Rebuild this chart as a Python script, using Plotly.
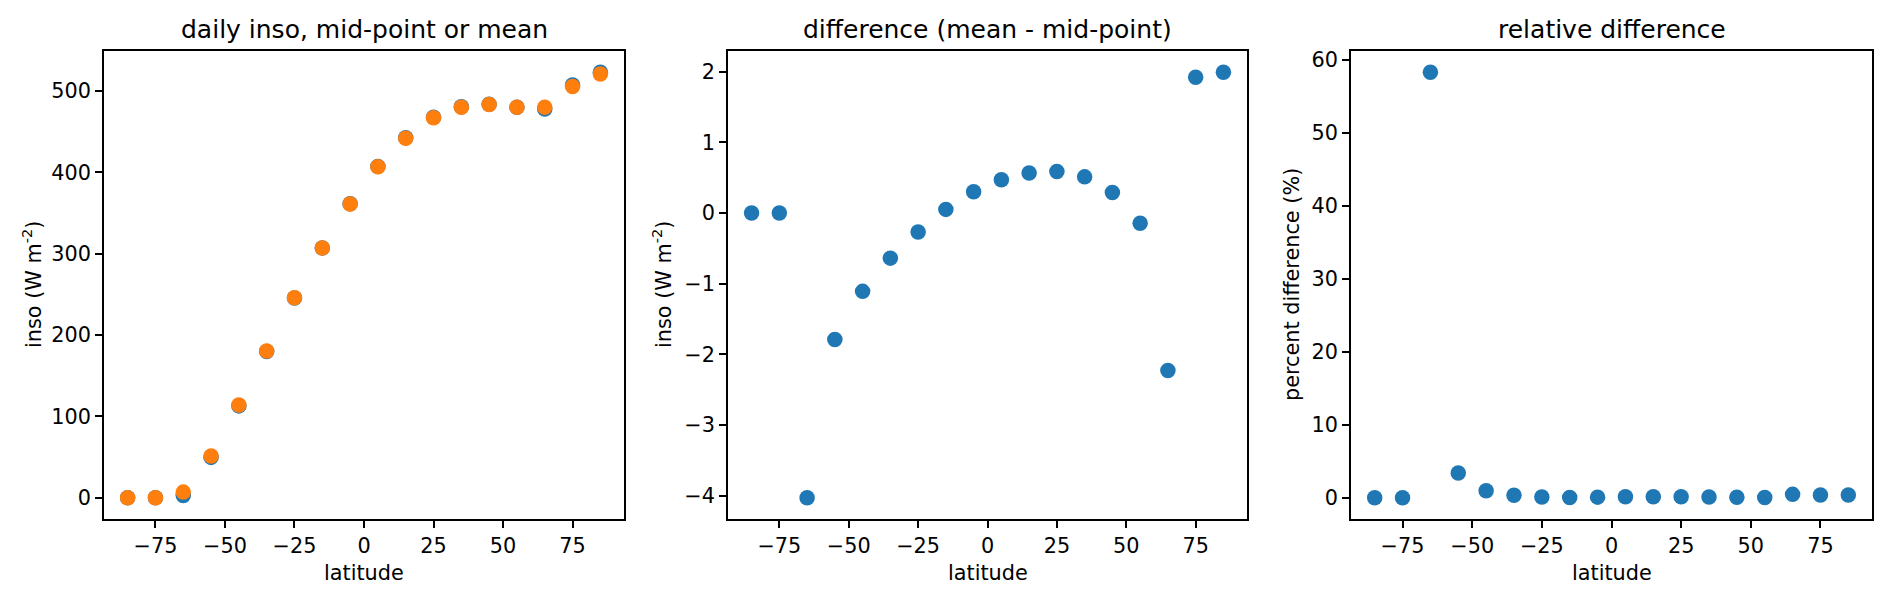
import plotly.graph_objects as go

latitude = [-85, -75, -65, -55, -45, -35, -25, -15, -5, 5, 15, 25, 35, 45, 55, 65, 75, 85]

# daily insolation (W m-2): mean (blue) and mid-point (orange)
inso_mean = [0.0, 0.0, 2.8, 49.6, 112.9, 179.7, 245.5, 307.0, 361.3, 407.3,
             442.6, 467.6, 480.5, 483.8, 479.9, 477.9, 507.5, 523.0]
inso_mid = [0.0, 0.0, 6.9, 51.4, 114.0, 180.3, 245.8, 307.0, 361.0, 406.8,
            442.0, 467.0, 480.0, 483.5, 480.0, 480.1, 505.6, 521.0]

# difference (mean - mid-point)
inso_diff = [0.0, 0.0, -4.03, -1.79, -1.11, -0.64, -0.27, 0.05, 0.30, 0.47,
             0.565, 0.587, 0.51, 0.29, -0.147, -2.23, 1.92, 1.99]

# relative difference (%)
rel_diff = [0.0, 0.0, 58.3, 3.4, 0.96, 0.35, 0.11, 0.02, 0.08, 0.12,
            0.13, 0.13, 0.11, 0.06, 0.03, 0.46, 0.38, 0.38]

x_ticks = [-75, -50, -25, 0, 25, 50, 75]
y1_ticks = [0, 100, 200, 300, 400, 500]
y2_ticks = [-4, -3, -2, -1, 0, 1, 2]
y3_ticks = [0, 10, 20, 30, 40, 50, 60]

titles = ["daily inso, mid-point or mean", "difference (mean - mid-point)", "relative difference"]
ylabels = ["inso (W m<sup>-2</sup>)", "inso (W m<sup>-2</sup>)", "percent difference (%)"]
xlabel = "latitude"

BLUE = "#1f77b4"
ORANGE = "#ff7f0e"
OFF = 8  # default page body margin
W, H = 1892 - OFF, 600 - OFF
FONT = "DejaVu Sans"
TICKF = 20.8
TITLEF = 25

# panel pixel boxes (page coordinates)
px_left = [104, 728, 1351]
px_right = [624, 1247, 1872]
py_top, py_bot = 51, 519
ylab_x = [32, 662, 1292]


def fx(p):
    return (p - OFF) / W


def fy(p):
    return 1 - (p - OFF) / H


fig = go.Figure()
msize = 15.5
fig.add_trace(go.Scatter(x=latitude, y=inso_mean, mode="markers",
                         marker=dict(color=BLUE, size=msize, line=dict(width=0)),
                         xaxis="x", yaxis="y", showlegend=False))
fig.add_trace(go.Scatter(x=latitude, y=inso_mid, mode="markers",
                         marker=dict(color=ORANGE, size=msize, line=dict(width=0)),
                         xaxis="x", yaxis="y", showlegend=False))
fig.add_trace(go.Scatter(x=latitude, y=inso_diff, mode="markers",
                         marker=dict(color=BLUE, size=msize, line=dict(width=0)),
                         xaxis="x2", yaxis="y2", showlegend=False))
fig.add_trace(go.Scatter(x=latitude, y=rel_diff, mode="markers",
                         marker=dict(color=BLUE, size=msize, line=dict(width=0)),
                         xaxis="x3", yaxis="y3", showlegend=False))


def margin_range(vals, frac=0.05):
    lo, hi = min(vals), max(vals)
    pad = (hi - lo) * frac
    return [lo - pad, hi + pad]


xr = margin_range(latitude)
yranges = [margin_range(inso_mean + inso_mid), margin_range(inso_diff), margin_range(rel_diff)]
yticks = [y1_ticks, y2_ticks, y3_ticks]

common = dict(showline=True, linecolor="black", linewidth=1.6, mirror=True,
              ticks="outside", ticklen=7, tickwidth=1.6, tickcolor="black",
              showgrid=False, zeroline=False, automargin=False,
              tickfont=dict(family=FONT, size=TICKF, color="black"))

ydom = [fy(py_bot), fy(py_top)]
annotations = []
for i in range(3):
    sfx = "" if i == 0 else str(i + 1)
    xdom = [fx(px_left[i]), fx(px_right[i])]
    fig.update_layout(**{
        "xaxis" + sfx: dict(domain=xdom, range=xr, tickmode="array", tickvals=x_ticks,
                            anchor="y" + sfx, **common),
        "yaxis" + sfx: dict(domain=ydom, range=yranges[i], tickmode="array", tickvals=yticks[i],
                            anchor="x" + sfx, **common),
    })
    cx = fx((px_left[i] + px_right[i]) / 2)
    annotations.append(dict(text=titles[i], x=cx, y=fy(29), xref="paper", yref="paper",
                            xanchor="center", yanchor="middle", showarrow=False,
                            font=dict(family=FONT, size=TITLEF, color="black")))
    annotations.append(dict(text=xlabel, x=cx, y=fy(573), xref="paper", yref="paper",
                            xanchor="center", yanchor="middle", showarrow=False,
                            font=dict(family=FONT, size=TICKF, color="black")))
    annotations.append(dict(text=ylabels[i], x=fx(ylab_x[i]), y=(ydom[0] + ydom[1]) / 2,
                            xref="paper", yref="paper", xanchor="center", yanchor="middle",
                            textangle=-90, showarrow=False,
                            font=dict(family=FONT, size=TICKF, color="black")))

fig.update_layout(width=W, height=H, margin=dict(l=0, r=0, t=0, b=0),
                  paper_bgcolor="white", plot_bgcolor="white",
                  font=dict(family=FONT, color="black"),
                  annotations=annotations)

fig.write_html("out.html")
